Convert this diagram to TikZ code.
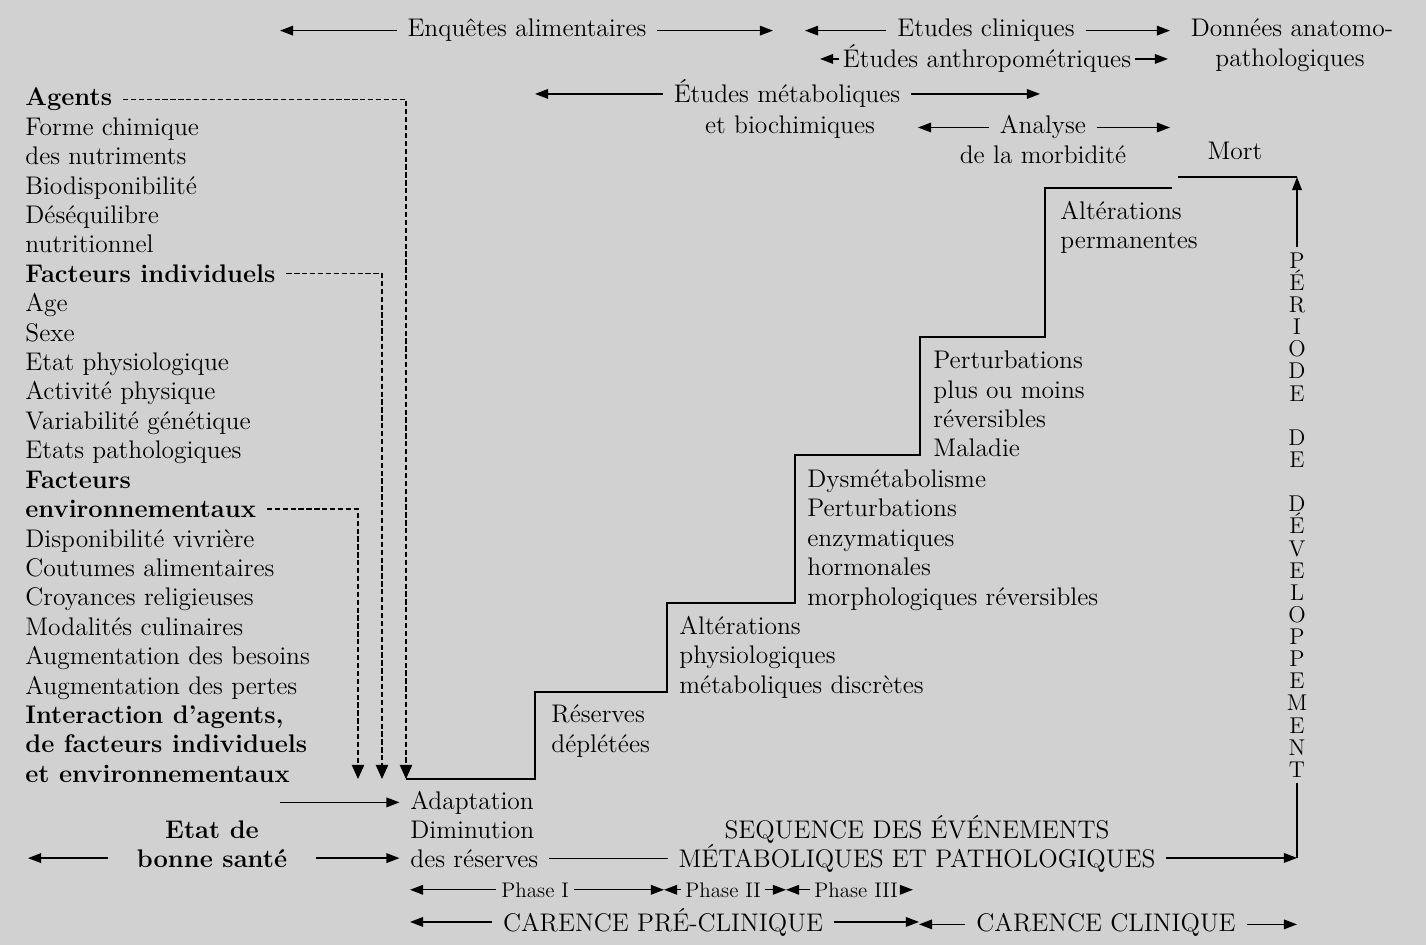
\documentclass[tikz,border=0pt]{standalone}
\usepackage{fontspec}
\usetikzlibrary{arrows.meta}
\definecolor{paper}{gray}{0.82}

\begin{document}
\begin{tikzpicture}[x=0.02cm,y=-0.02cm,
  txt/.style={font=\fontsize{14.5}{16.7}\selectfont,inner xsep=6pt,inner ysep=0pt},
  item/.style={txt,anchor=base west},
  head/.style={item,font=\fontsize{14.5}{16.7}\selectfont\bfseries},
  small/.style={txt,font=\fontsize{12}{14}\selectfont,inner xsep=2pt},
  vert/.style={font=\fontsize{13}{12.6}\selectfont,align=center,inner xsep=0pt,inner ysep=3pt},
  arr/.style={line width=0.8pt,-{Triangle[length=7.5pt,width=5.5pt]}},
  link/.style={line width=0.8pt},
  feed/.style={line width=0.7pt,dash pattern=on 3pt off 1.5pt,-{Triangle[length=8pt,width=7pt]}},
  stair/.style={line width=0.7pt}]
  \fill[paper] (0,0) rectangle (1426,945);
  \useasboundingbox (0,0) rectangle (1426,945);

  % Studies along the top
  \node[txt,anchor=base] (enq) at (527,37) {Enquêtes alimentaires};
  \node[txt,anchor=base] (clin) at (986,37) {Etudes cliniques};
  \node[txt,anchor=base] (donA) at (1292,37) {Données anatomo-};
  \node[txt,anchor=base] (donB) at (1290,67) {pathologiques};
  \node[txt,anchor=base,inner xsep=2pt] (anthro) at (987,68) {Études anthropométriques};
  \node[txt,anchor=base] (metabA) at (787,103) {Études métaboliques};
  \node[txt,anchor=base] (metabB) at (790,134) {et biochimiques};
  \node[txt,anchor=base] (morbA) at (1043,134) {Analyse};
  \node[txt,anchor=base] (morbB) at (1043,164) {de la morbidité};
  \coordinate (enqL) at (280,30);
  \coordinate (enqR) at (773,30);
  \coordinate (clinL) at (805,30);
  \coordinate (clinR) at (1170,30);
  \coordinate (anthroL) at (820,61);
  \coordinate (anthroR) at (1168,61);
  \coordinate (metabL) at (535,96);
  \coordinate (metabR) at (1040,96);
  \coordinate (morbL) at (918,127);
  \coordinate (morbR) at (1170,127);
  \draw[arr] (enq.west) -- (enq.west -| enqL);
  \draw[arr] (enq.east) -- (enq.east -| enqR);
  \draw[arr] (clin.west) -- (clin.west -| clinL);
  \draw[arr] (clin.east) -- (clin.east -| clinR);
  \draw[arr] (anthro.west) -- (anthro.west -| anthroL);
  \draw[arr] (anthro.east) -- (anthro.east -| anthroR);
  \draw[arr] (metabA.west) -- (metabA.west -| metabL);
  \draw[arr] (metabA.east) -- (metabA.east -| metabR);
  \draw[arr] (morbA.west) -- (morbA.west -| morbL);
  \draw[arr] (morbA.east) -- (morbA.east -| morbR);

  % Left column: agents and factors
  \node[head] (agents) at (14.5,106) {Agents};
  \node[head] (indiv) at (14.5,282.4) {Facteurs individuels};
  \node[head] (envirA) at (14.5,488.2) {Facteurs};
  \node[head] (envirB) at (14.5,517.6) {environnementaux};
  \node[head,align=left] (inter) at (14.5,782.2) {Interaction d'agents,\\de facteurs individuels\\et environnementaux};
  \foreach \k/\t in {1/Forme chimique,2/des nutriments,3/Biodisponibilité,4/Déséquilibre,5/nutritionnel,
      7/Age,8/Sexe,9/Etat physiologique,10/Activité physique,11/Variabilité génétique,12/Etats pathologiques,
      15/Disponibilité vivrière,16/Coutumes alimentaires,17/Croyances religieuses,18/Modalités culinaires,
      19/Augmentation des besoins,20/Augmentation des pertes}{
    \node[item] (l\k) at (14.5,{106+29.4*\k}) {\t};
  }
  \coordinate (tipA) at (406,779);
  \coordinate (tipB) at (382,779);
  \coordinate (tipC) at (358,779);
  \draw[feed] (agents.east) -| (tipA);
  \draw[feed] (indiv.east) -| (tipB);
  \draw[feed] (envirB.east) -| (tipC);

  % Staircase of events
  \draw[stair] (tipA) -- (535,779) -- (535,692) -- (667,692) -- (667,603) -- (795,603)
    -- (795,455) -- (920,455) -- (920,337) -- (1045,337) -- (1045,188) -- (1172,188);
  \node[item,align=left] (resv) at (540.5,752) {Réserves\\déplétées};
  \node[item,align=left] (altA) at (668.5,693) {Altérations\\physiologiques\\métaboliques discrètes};
  \node[item,align=left] (dysm) at (796.5,605) {Dysmétabolisme\\Perturbations\\enzymatiques\\hormonales\\morphologiques réversibles};
  \node[item,align=left] (pert) at (922.5,457) {Perturbations\\plus ou moins\\réversibles\\Maladie};
  \node[item,align=left] (altB) at (1049.5,249) {Altérations\\permanentes};
  \node[txt,anchor=base] (mort) at (1235,160) {Mort};
  \coordinate (mortL) at (1178,177);

  % Development period
  \node[vert,anchor=north] (periode) at (1297,247) {P\\É\\R\\I\\O\\D\\E\\[12.6pt]D\\E\\[12.6pt]D\\É\\V\\E\\L\\O\\P\\P\\E\\M\\E\\N\\T};
  \draw[link] (mortL) -- (mortL -| periode.north);
  \draw[arr] (periode.north) -- (mortL -| periode.north);

  % Bottom: health and sequence
  \node[item] (adapt) at (399.5,809) {Adaptation};
  \node[item] (dimin) at (399.5,838) {Diminution};
  \node[item] (desres) at (399.5,867) {des réserves};
  \node[txt,anchor=base,font=\fontsize{14.5}{16.7}\selectfont\bfseries] (etat) at (212,838) {Etat de};
  \node[txt,anchor=base,font=\fontsize{14.5}{16.7}\selectfont\bfseries] (sante) at (212,867) {bonne santé};
  \node[txt,anchor=base] (seq) at (917,838) {SEQUENCE DES ÉVÉNEMENTS};
  \node[txt,anchor=base] (metab) at (917,867) {MÉTABOLIQUES ET PATHOLOGIQUES};
  \coordinate (adaptL) at (280,802);
  \coordinate (santeL) at (28,860);
  \draw[arr] (adapt.west -| adaptL) -- (adapt.west);
  \draw[arr,shorten <=10pt] (sante.west) -- (sante.west -| santeL);
  \draw[arr,shorten <=10pt] (sante.east) -- (sante.east -| desres.west);
  \draw[link] (desres.east) -- (desres.east -| metab.west);
  \draw[arr] (metab.east) -- (metab.east -| periode.south);
  \draw[link] (periode.south) -- (metab.east -| periode.south);

  % Phases and deficiency stages
  \node[small,anchor=base,inner xsep=3pt] (ph1) at (535,897) {Phase I};
  \node[small,anchor=base] (ph2) at (723,897) {Phase II};
  \node[small,anchor=base] (ph3) at (856,897) {Phase III};
  \coordinate (p0) at (410,891);
  \coordinate (p1) at (664,891);
  \coordinate (p2) at (786,891);
  \coordinate (p3) at (913,891);
  \draw[arr] (ph1.west) -- (ph1.west -| p0);
  \draw[arr] (ph1.east) -- (ph1.east -| p1);
  \draw[arr] (ph2.west) -- (ph2.west -| p1);
  \draw[arr] (ph2.east) -- (ph2.east -| p2);
  \draw[arr] (ph3.west) -- (ph3.west -| p2);
  \draw[arr] (ph3.east) -- (ph3.east -| p3);
  \node[txt,anchor=base] (cpre) at (663,931) {CARENCE PRÉ-CLINIQUE};
  \node[txt,anchor=base] (cclin) at (1106,931) {CARENCE CLINIQUE};
  \coordinate (c0) at (410,922);
  \coordinate (c1) at (919,922);
  \coordinate (c2) at (1297,922);
  \draw[arr] (cpre.west) -- (cpre.west -| c0);
  \draw[arr] (cpre.east) -- (cpre.east -| c1);
  \draw[arr] (cclin.west) -- (cclin.west -| c1);
  \draw[arr] (cclin.east) -- (cclin.east -| c2);
\end{tikzpicture}
\end{document}
